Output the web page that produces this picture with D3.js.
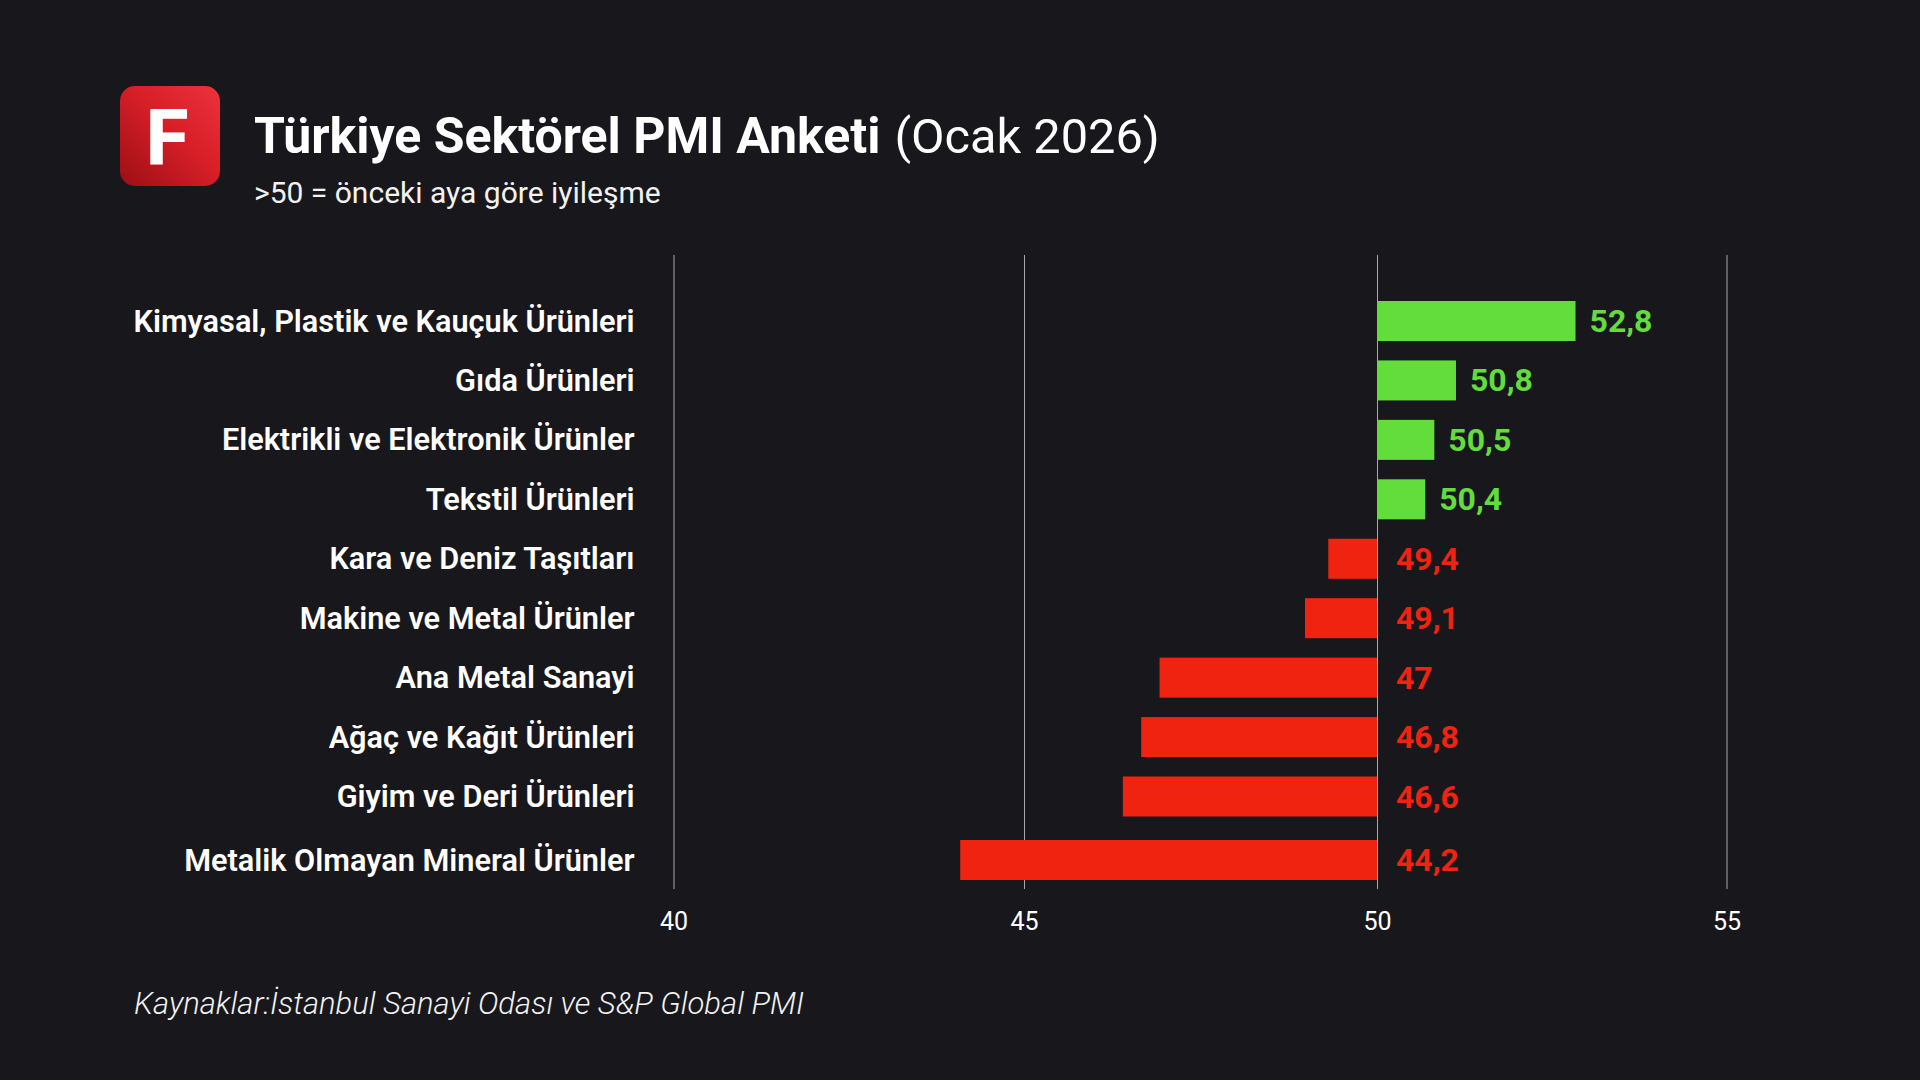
<!DOCTYPE html>
<html>
<head>
<meta charset="utf-8">
<script src="https://cdn.jsdelivr.net/npm/d3@7"></script>
<style>
  html, body { margin: 0; background: #18181c; }
  text { font-family: Roboto, "Noto Sans", sans-serif; }
</style>
</head>
<body>
<div id="viewer"></div>
<script>
const categories = [
  "Kimyasal, Plastik ve Kauçuk Ürünleri",
  "Gıda Ürünleri",
  "Elektrikli ve Elektronik Ürünler",
  "Tekstil Ürünleri",
  "Kara ve Deniz Taşıtları",
  "Makine ve Metal Ürünler",
  "Ana Metal Sanayi",
  "Ağaç ve Kağıt Ürünleri",
  "Giyim ve Deri Ürünleri",
  "Metalik Olmayan Mineral Ürünler"
];
// printed labels
const valueLabels = ["52,8", "50,8", "50,5", "50,4", "49,4", "49,1", "47", "46,8", "46,6", "44,2"];
// where the bars really end on the axis, the reference does not draw them to the printed value
const barEnds = [52.84, 51.13, 50.82, 50.69, 49.31, 48.98, 46.92, 46.66, 46.40, 44.09];
const axisTicks = [40, 45, 50, 55];
const baseline = 50;

const svg = d3.select("#viewer").append("svg").attr("width", 1920).attr("height", 1080)
  .style("display", "block");

// gridlines are not evenly spaced in the reference
const x = d3.scaleLinear().domain(axisTicks).range([673.5, 1024, 1377, 1726.5]);
const y = d3.scaleLinear().domain([0, 8, 9]).range([321, 796.5, 860]);
const barH = 40;

// logo
const defs = svg.append("defs");
const grad = defs.append("linearGradient").attr("id", "logo-grad")
  .attr("x1", 0).attr("y1", 1).attr("x2", 1).attr("y2", 0);
grad.append("stop").attr("offset", "0%").attr("stop-color", "#9c0e14");
grad.append("stop").attr("offset", "55%").attr("stop-color", "#d81f28");
grad.append("stop").attr("offset", "100%").attr("stop-color", "#ec323c");
svg.append("rect").attr("x", 120).attr("y", 86).attr("width", 100).attr("height", 100)
  .attr("rx", 15).attr("fill", "url(#logo-grad)");
svg.append("text").attr("x", 167).attr("y", 164).attr("text-anchor", "middle")
  .attr("font-size", 78).attr("font-weight", 800).attr("fill", "#fff").text("F");

// title
const title = svg.append("text").attr("x", 254).attr("y", 153).attr("fill", "#fff");
title.append("tspan").attr("font-size", 50).attr("font-weight", 700).text("Türkiye Sektörel PMI Anketi");
title.append("tspan").attr("font-size", 48.7).attr("font-weight", 400).attr("dx", 14).text("(Ocak 2026)");
svg.append("text").attr("x", 254).attr("y", 203).attr("font-size", 30).attr("font-weight", 400)
  .attr("fill", "#f2f2f2").text(">50 = önceki aya göre iyileşme");

// axis + gridlines
const axis = svg.append("g").attr("transform", "translate(0,889)")
  .call(d3.axisBottom(x).tickValues(axisTicks).tickSize(634).tickPadding(0));
axis.select(".domain").remove();
axis.selectAll(".tick line").attr("y1", 0).attr("y2", -634).attr("stroke", "#a8a8ac").attr("stroke-width", 1);
axis.selectAll(".tick text").attr("y", 41).attr("dy", 0).attr("font-size", 25)
  .attr("font-family", "Roboto").attr("fill", "#fff");

// bars
svg.selectAll("rect.bar")
  .data(barEnds)
  .enter()
  .append("rect")
  .attr("class", "bar")
  .attr("x", d => Math.min(x(d), x(baseline)))
  .attr("y", (d, i) => y(i) - barH / 2)
  .attr("width", d => Math.abs(x(d) - x(baseline)))
  .attr("height", barH)
  .attr("fill", d => d >= baseline ? "#62dd3c" : "#f02311");

// category labels
svg.selectAll("text.cat")
  .data(categories)
  .enter()
  .append("text")
  .attr("class", "cat")
  .attr("x", 634.5)
  .attr("y", (d, i) => y(i) + 10.5)
  .attr("text-anchor", "end")
  .attr("font-size", 30.7)
  .attr("font-weight", 600)
  .attr("fill", "#fff")
  .text(d => d);

// value labels
svg.selectAll("text.val")
  .data(valueLabels)
  .enter()
  .append("text")
  .attr("class", "val")
  .attr("x", (d, i) => barEnds[i] >= baseline ? x(barEnds[i]) + 14 : x(baseline) + 19)
  .attr("y", (d, i) => y(i) + 11)
  .attr("font-size", 32)
  .attr("font-weight", 700)
  .attr("fill", (d, i) => barEnds[i] >= baseline ? "#62dd3c" : "#f02311")
  .text(d => d);

// source
svg.append("text").attr("x", 134).attr("y", 1014).attr("font-size", 31).attr("font-weight", 300)
  .attr("font-style", "italic").attr("fill", "#f2f2f2")
  .text("Kaynaklar:İstanbul Sanayi Odası ve S&P Global PMI");
</script>
</body>
</html>
